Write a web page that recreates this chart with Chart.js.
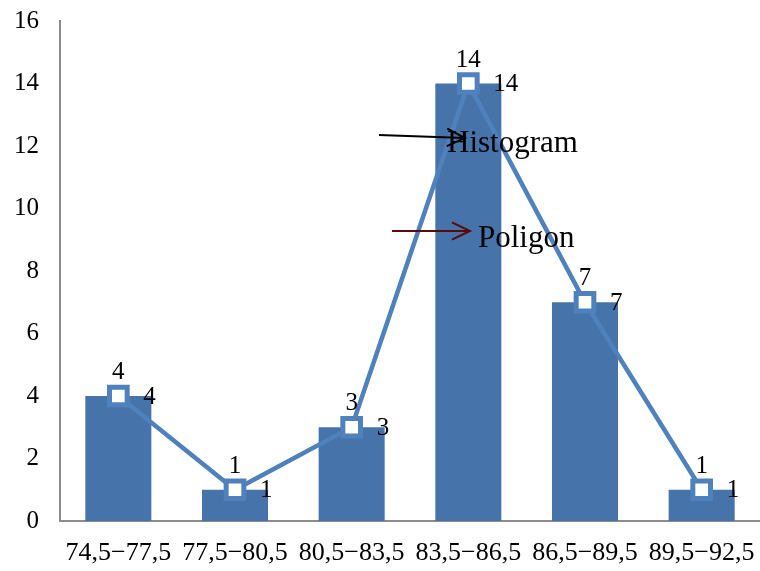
<!DOCTYPE html>
<html>
<head>
<meta charset="utf-8">
<script src="https://cdn.jsdelivr.net/npm/chart.js@4"></script>
<style>
  html, body { margin: 0; padding: 0; background: #ffffff; }
  canvas { display: block; }
</style>
</head>
<body>
<canvas id="chart" width="760" height="571"></canvas>
<script>
// Score intervals and their frequencies
const categories = ['74,5\u221277,5', '77,5\u221280,5', '80,5\u221283,5', '83,5\u221286,5', '86,5\u221289,5', '89,5\u221292,5'];
const histogramValues = [4, 1, 3, 14, 7, 1];
const polygonValues = [4, 1, 3, 14, 7, 1];
const yTicks = [0, 2, 4, 6, 8, 10, 12, 14, 16];

const SERIF = "'Liberation Serif', 'Times New Roman', Times, serif";
const BAR_COLOR = '#4673AA';
const LINE_COLOR = '#4F81BD';

// Value labels: histogram labels sit above each bar, polygon labels to the right of each point
const valueLabels = {
  id: 'valueLabels',
  afterDatasetsDraw(chart) {
    const ctx = chart.ctx;
    ctx.save();
    ctx.fillStyle = '#000';
    ctx.font = '25px ' + SERIF;
    const barMeta = chart.getDatasetMeta(0);
    barMeta.data.forEach((el, i) => {
      ctx.textAlign = 'center';
      ctx.textBaseline = 'alphabetic';
      ctx.fillText(String(histogramValues[i]), el.x, el.y - 17);
    });
    const lineMeta = chart.getDatasetMeta(1);
    lineMeta.data.forEach((el, i) => {
      ctx.textAlign = 'left';
      ctx.textBaseline = 'middle';
      ctx.fillText(String(polygonValues[i]), el.x + 25, el.y + 1);
    });
    ctx.restore();
  }
};

// Callouts with arrows naming the two series
function arrow(ctx, x1, y1, x2, y2, color) {
  const ang = Math.atan2(y2 - y1, x2 - x1);
  const head = 20;
  ctx.strokeStyle = color;
  ctx.lineWidth = 2;
  ctx.beginPath();
  ctx.moveTo(x1, y1);
  ctx.lineTo(x2, y2);
  ctx.moveTo(x2 - head * Math.cos(ang - 0.45), y2 - head * Math.sin(ang - 0.45));
  ctx.lineTo(x2, y2);
  ctx.lineTo(x2 - head * Math.cos(ang + 0.45), y2 - head * Math.sin(ang + 0.45));
  ctx.stroke();
}

const callouts = {
  id: 'callouts',
  afterDraw(chart) {
    const ctx = chart.ctx;
    ctx.save();
    ctx.fillStyle = '#000';
    ctx.font = '31px ' + SERIF;
    ctx.textAlign = 'left';
    ctx.textBaseline = 'alphabetic';
    ctx.fillText('Histogram', 447, 152);
    ctx.fillText('Poligon', 478, 247);
    arrow(ctx, 379, 135, 465, 138, '#000000');
    arrow(ctx, 392, 231, 470, 231, '#5A0A0A');
    ctx.restore();
  }
};

new Chart(document.getElementById('chart'), {
  type: 'bar',
  data: {
    labels: categories,
    datasets: [
      {
        type: 'bar',
        label: 'Histogram',
        data: histogramValues,
        backgroundColor: BAR_COLOR,
        borderWidth: 0,
        categoryPercentage: 1,
        barPercentage: 0.566,
        order: 2
      },
      {
        type: 'line',
        label: 'Poligon',
        data: polygonValues,
        borderColor: LINE_COLOR,
        borderWidth: 4.5,
        pointStyle: 'rect',
        pointRadius: 12.5,
        pointHoverRadius: 12.5,
        pointBorderWidth: 5,
        pointBackgroundColor: '#ffffff',
        pointBorderColor: LINE_COLOR,
        tension: 0,
        fill: false,
        clip: false,
        order: 1
      }
    ]
  },
  options: {
    responsive: false,
    devicePixelRatio: 1,
    animation: false,
    layout: { autoPadding: false, padding: { top: 21, right: 0, bottom: 0, left: 0 } },
    plugins: {
      legend: { display: false },
      tooltip: { enabled: false }
    },
    scales: {
      x: {
        offset: true,
        grid: { display: false, drawTicks: false },
        border: { display: true, color: '#8c8c8c', width: 2 },
        ticks: {
          color: '#000',
          font: { family: SERIF, size: 26 },
          padding: 17,
          maxRotation: 0,
          autoSkip: false
        },
        afterFit(scale) {
          scale.height = 50;
          scale.paddingLeft = 0;
          scale.paddingRight = 0;
        }
      },
      y: {
        min: 0,
        max: 16,
        afterBuildTicks(scale) { scale.ticks = yTicks.map(v => ({ value: v })); },
        grid: { display: false, drawTicks: false },
        border: { display: true, color: '#8c8c8c', width: 2 },
        ticks: {
          color: '#000',
          font: { family: SERIF, size: 25 },
          padding: 21
        },
        afterFit(scale) {
          scale.width = 60;
          scale.paddingTop = 0;
          scale.paddingBottom = 0;
        }
      }
    }
  },
  plugins: [valueLabels, callouts]
});
</script>
</body>
</html>
